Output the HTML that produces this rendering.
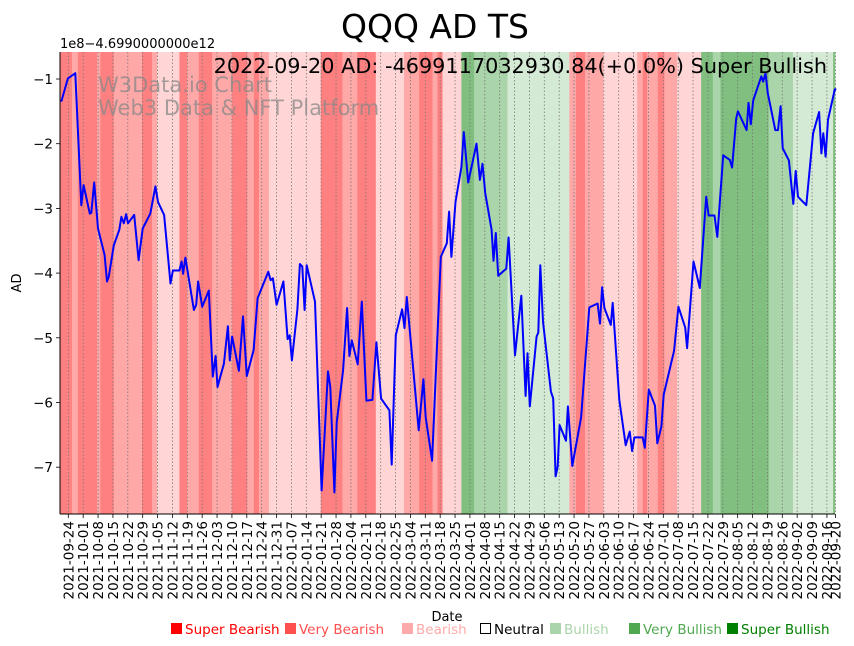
<!DOCTYPE html>
<html><head><meta charset="utf-8"><style>
body{margin:0;background:#fff;}
svg{display:block;font-family:"DejaVu Sans","Liberation Sans",sans-serif;}
</style></head><body>
<svg id="chart" width="854" height="646" viewBox="0 0 854 646" xmlns="http://www.w3.org/2000/svg">
<text x="435" y="38" font-size="33" text-anchor="middle">QQQ AD TS</text>
<text x="60" y="48" font-size="13">1e8−4.6990000000e12</text>
<text transform="translate(21,283) rotate(-90)" font-size="13" text-anchor="middle">AD</text>
<text x="447" y="621" font-size="13" text-anchor="middle">Date</text>
<g id="bands"></g>
<g id="grid"></g>
<text x="98" y="92" font-size="21" fill="#888" fill-opacity="0.75">W3Data.io Chart</text>
<text x="98" y="115" font-size="21" fill="#888" fill-opacity="0.75">Web3 Data &amp; NFT Platform</text>
<g id="line"></g>
<text x="827" y="73" font-size="20.8" text-anchor="end">2022-09-20 AD: -4699117032930.84(+0.0%) Super Bullish</text>
<g id="axes"></g>
<g id="legend"></g>
</svg>
<script>
// day offsets from 2021-09-24 and AD values (units of 1e8, offset -4.699e12)
const days = [-3.3,-0.2,3.3,6.1,7.2,10.1,10.8,12.2,14,17.1,18.2,19,21.4,24,25,26.1,27.2,28.1,31,33.1,35,38.6,41,42.2,45.1,48.1,49.2,52.3,53.3,54,55.1,59.1,60.2,61.1,63,66.1,68,69.3,70.2,73.2,75.1,76,77.1,80.3,82.2,84,87.2,89.1,94.1,95.2,96.3,98,101.2,103.2,104.2,105.2,107.8,109,110.1,111.2,112.2,116.1,119.2,122.2,123.3,125.2,126.3,129.3,131.2,132.3,133.4,136.2,138.1,140.3,143.1,145,147.2,151.1,152.2,154.1,157.1,158.2,159.3,164.9,167.1,168.2,171.2,175.3,178.1,179.2,180.3,182.2,185,186.1,188.2,192.1,193.7,194.9,196.2,199.2,200.1,201.2,202.3,206.1,207.2,210.2,213.2,215.2,216.1,217.2,220.4,221.2,222.1,223.4,227.1,228.2,229.3,230.3,231.2,234.2,235.1,237.2,241.3,245.2,249.1,250.2,251.2,252.3,255.3,256.2,259.3,262.3,264.2,265.3,266.4,270.3,271.3,273.2,276.1,277.2,279.1,280.2,285.1,287.1,290.3,291.2,294.2,297.2,300.2,301.3,304.1,305.4,308.2,311.3,312.4,314.3,315.1,319.2,320.1,321.2,322.3,326.1,327,328.1,329.2,332.7,334,335.2,336.2,339.1,341.2,342.3,343.4,347.3,350.5,353.3,354.4,355.3,356.4,357.5,360.7,361.4];
const adValues = [-1.35,-0.99,-0.91,-2.95,-2.64,-3.08,-3.07,-2.6,-3.31,-3.72,-4.13,-4.06,-3.57,-3.33,-3.13,-3.23,-3.09,-3.23,-3.1,-3.8,-3.31,-3.08,-2.66,-2.9,-3.1,-4.16,-3.96,-3.96,-3.82,-4.01,-3.76,-4.57,-4.49,-4.13,-4.52,-4.27,-5.6,-5.28,-5.76,-5.4,-4.82,-5.35,-4.98,-5.51,-4.67,-5.59,-5.19,-4.39,-3.98,-4.11,-4.08,-4.49,-4.13,-5.02,-4.96,-5.35,-4.56,-3.86,-3.9,-4.57,-3.88,-4.44,-7.36,-5.52,-5.76,-7.39,-6.31,-5.5,-4.54,-5.28,-5.04,-5.41,-4.44,-5.97,-5.96,-5.07,-5.94,-6.12,-6.96,-4.96,-4.56,-4.85,-4.37,-6.43,-5.64,-6.23,-6.9,-3.75,-3.54,-3.05,-3.75,-2.9,-2.36,-1.82,-2.6,-2,-2.56,-2.31,-2.76,-3.33,-3.81,-3.38,-4.04,-3.93,-3.45,-5.27,-4.35,-5.9,-5.24,-6.06,-4.98,-4.92,-3.88,-4.75,-5.83,-5.94,-7.14,-6.99,-6.35,-6.59,-6.06,-6.98,-6.23,-4.53,-4.47,-4.78,-4.22,-4.54,-4.8,-4.46,-5.96,-6.66,-6.45,-6.75,-6.54,-6.54,-6.7,-5.8,-6.05,-6.63,-6.37,-5.88,-5.2,-4.52,-4.84,-5.16,-3.82,-4.23,-2.82,-3.11,-3.11,-3.44,-2.18,-2.25,-2.37,-1.61,-1.5,-1.79,-1.37,-1.7,-1.33,-0.96,-1.04,-0.91,-1.22,-1.79,-1.79,-1.42,-2.07,-2.26,-2.93,-2.42,-2.82,-2.95,-1.84,-1.51,-2.15,-1.84,-2.2,-1.63,-1.16,-1.16];
// sentiment bands: start day, end day, level (-3..3)
const bandStart = [-3.8,1.7,4.5,13.5,15.1,21.4,34.7,39.4,41.8,52.3,55.9,61.4,67.7,77.1,84.2,87.3,89.7,94.4,118.8,129,136,144.7,158,165.1,171.4,173.7,176.1,185,191,196.5,206.7,235.8,238.9,243.2,251.8,267.7,270.3,272.4,277.4,280.5,286.5,297.8,303.3,306.9,329.6,341,359.9];
const bandEnd   = [1.7,4.5,13.5,15.1,21.4,34.7,39.4,41.8,52.3,55.9,61.4,67.7,77.1,84.2,87.3,89.7,94.4,118.8,129,136,144.7,158,165.1,171.4,173.7,176.1,185,191,196.5,206.7,235.8,238.9,243.2,251.8,267.7,270.3,272.4,277.4,280.5,286.5,297.8,303.3,306.9,329.6,341,359.9,361.4];
const bandLevel = [-3,-2,-3,-2,-3,-2,-3,-2,-1,-3,-2,-3,-2,-3,-2,-3,-2,-1,-3,-2,-3,-1,-2,-3,-2,-3,-1,3,2,2,1,-2,-3,-2,-1,-2,-3,-2,-3,-2,-1,3,2,3,2,1,3];
const yTicks = [-1,-2,-3,-4,-5,-6,-7];
const legendLabels = ["Super Bearish","Very Bearish","Bearish","Neutral","Bullish","Very Bullish","Super Bullish"];

const NS="http://www.w3.org/2000/svg";
const L=60,R=835,T=52,B=514;
const xS=d=>68.3+d*2.125;
const yS=v=>79+(-1-v)*64.7;
function mk(tag,attrs,parent,txt){const e=document.createElementNS(NS,tag);for(const k in attrs)e.setAttribute(k,attrs[k]);if(txt!==undefined)e.textContent=txt;parent.appendChild(e);return e;}
const bandColor={"-3":"#ff8080","-2":"#ffa8a8","-1":"#ffd5d5","0":"#ffffff","1":"#d5ead5","2":"#aad4aa","3":"#80bf80"};
const bands=document.getElementById('bands');
for(let i=0;i<bandStart.length;i++){
  const x0=Math.max(L,xS(bandStart[i])),x1=Math.min(R,xS(bandEnd[i]));
  const r=mk('rect',{x:x0,y:T,width:Math.max(0,x1-x0+0.3),height:B-T,fill:bandColor[bandLevel[i]]},bands);
  
  
}
// weekly ticks
const grid=document.getElementById('grid'),axes=document.getElementById('axes');
const base=new Date(Date.UTC(2021,8,24));
const tickDays=[];for(let d=0;d<=357;d+=7)tickDays.push(d);tickDays.push(361);
function fmt(d){const t=new Date(base.getTime()+d*86400000);return t.getUTCFullYear()+'-'+String(t.getUTCMonth()+1).padStart(2,'0')+'-'+String(t.getUTCDate()).padStart(2,'0');}
tickDays.forEach(d=>{
  const x=xS(d);
  mk('line',{x1:x,x2:x,y1:T,y2:B,stroke:'#777','stroke-width':0.8,'stroke-dasharray':'1.5,2'},grid);
  mk('line',{x1:x,x2:x,y1:B,y2:B+4,stroke:'#000','stroke-width':0.8},axes);
  const t=mk('text',{transform:`translate(${x+5},${B+7}) rotate(-90)`,'font-size':13.5,'text-anchor':'end'},axes,fmt(d));
  
  
});
yTicks.forEach(v=>{
  const y=yS(v);
  mk('line',{x1:L-4,x2:L,y1:y,y2:y,stroke:'#000','stroke-width':0.8},axes);
  const t=mk('text',{x:L-7,y:y+5,'font-size':13.5,'text-anchor':'end'},axes,String(v).replace('-','−'));
  
  
});
mk('line',{x1:L,x2:L,y1:T,y2:B,stroke:'#000','stroke-width':1},axes);
mk('line',{x1:L,x2:R,y1:B,y2:B,stroke:'#000','stroke-width':1},axes);
// line
const pts=days.map((d,i)=>xS(d).toFixed(1)+','+yS(adValues[i]).toFixed(1)).join(' ');
const pl=mk('polyline',{points:pts,fill:'none',stroke:'#0000ff','stroke-width':2,'stroke-linejoin':'round'},document.getElementById('line'));


// legend
const lg=document.getElementById('legend');
const lgCol=["#ff0000","#ff5050","#ffaaaa","#000000","#aad4aa","#50a850","#008000"];
const lgX=[171,285,402,480,550,629,727];
legendLabels.forEach((s,i)=>{
  const g=mk('g',{},lg);
  
  
  if(i===3) mk('rect',{x:lgX[i]+0.5,y:623.5,width:10,height:10,fill:'none',stroke:'#000'},g);
  else mk('rect',{x:lgX[i],y:623,width:11,height:11,fill:lgCol[i]},g);
  mk('text',{x:lgX[i]+14,y:634,'font-size':13.5,fill:lgCol[i]},g,s);
});
</script>
</body></html>
